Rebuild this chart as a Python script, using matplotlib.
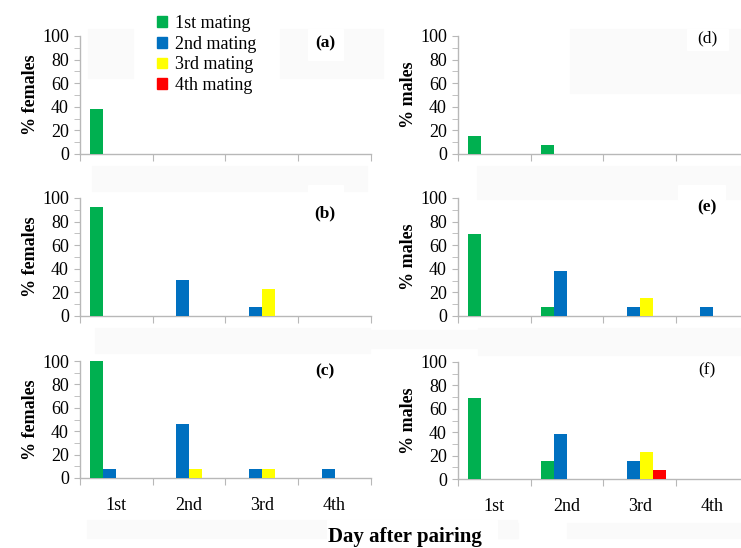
import numpy as np
import matplotlib
matplotlib.use("Agg")
import matplotlib.pyplot as plt
from matplotlib.patches import Patch, Rectangle
from matplotlib.ticker import MultipleLocator, FixedLocator

plt.rcParams['font.family'] = ['Liberation Serif', 'DejaVu Serif']

days = ['1st', '2nd', '3rd', '4th']
series = ['1st mating', '2nd mating', '3rd mating', '4th mating']
colors = ['#00B050', '#0070C0', '#FFFF00', '#FF0000']

# % per day, one row per mating order (1st..4th mating)
fem_a = [[38.5, 0, 0, 0], [0, 0, 0, 0], [0, 0, 0, 0], [0, 0, 0, 0]]
fem_b = [[92.3, 0, 0, 0], [0, 30.8, 7.7, 0], [0, 0, 23.1, 0], [0, 0, 0, 0]]
fem_c = [[100, 0, 0, 0], [7.7, 46.2, 7.7, 7.7], [0, 7.7, 7.7, 0], [0, 0, 0, 0]]
male_d = [[15.4, 7.7, 0, 0], [0, 0, 0, 0], [0, 0, 0, 0], [0, 0, 0, 0]]
male_e = [[69.2, 7.7, 0, 0], [0, 38.5, 7.7, 7.7], [0, 0, 15.4, 0], [0, 0, 0, 0]]
male_f = [[69.2, 15.4, 0, 0], [0, 38.5, 15.4, 0], [0, 0, 23.1, 0], [0, 0, 7.7, 0]]

W, H = 741, 548
fig = plt.figure(figsize=(W / 100, H / 100), dpi=100)

# faint grey boxes behind the panels (x0, y0, x1, y1 in pixels from top-left)
shade = [(88, 29, 133, 78), (280, 29, 370, 78), (370, 29, 383, 78),
         (570, 29, 741, 93), (92, 166, 367, 191), (477, 166, 741, 199),
         (95, 328, 370, 353), (478, 328, 741, 355), (370, 330, 478, 348),
         (87, 520, 517, 538), (370, 523, 518, 538), (567, 523, 741, 538)]
white = [(308, 29, 343, 60), (687, 29, 728, 50), (308, 185, 343, 200),
         (678, 185, 725, 200), (327, 520, 497, 548)]
for boxes, c in [(shade, '#fafafa'), (white, 'white')]:
    for x0, y0, x1, y1 in boxes:
        fig.patches.append(Rectangle((x0 / W, 1 - y1 / H), (x1 - x0) / W, (y1 - y0) / H,
                                     transform=fig.transFigure, color=c, zorder=-1))


def px_axes(left, top, bottom, right):
    return fig.add_axes([left / W, 1 - bottom / H, (right - left) / W, (bottom - top) / H])


def panel(ax, data, ylabel, tag, tag_bold, tag_pos, show_days):
    w = 0.18
    x = np.arange(len(days)) + 0.5
    for j, vals in enumerate(data):
        ax.bar(x + (j - 1.5) * w, vals, w, color=colors[j], zorder=3)
    ax.set_xlim(0, 4)
    ax.set_ylim(0, 100)
    ax.set_facecolor('none')
    for s in ['top', 'right']:
        ax.spines[s].set_visible(False)
    for s in ['left', 'bottom']:
        ax.spines[s].set_color('#b8b8b8')
        ax.spines[s].set_linewidth(1.0)
    ax.yaxis.set_major_locator(MultipleLocator(20))
    ax.yaxis.set_minor_locator(MultipleLocator(10))
    ax.tick_params(axis='y', which='both', length=4, color='#b8b8b8',
                   labelsize=13, pad=4)
    ax.xaxis.set_major_locator(FixedLocator([0, 1, 2, 3, 4]))
    ax.xaxis.set_minor_locator(FixedLocator(x))
    ax.tick_params(axis='x', which='major', length=5, color='#b8b8b8', labelbottom=False)
    ax.tick_params(axis='x', which='minor', length=0, labelsize=13, pad=14)
    if show_days:
        ax.set_xticklabels(days, minor=True)
    else:
        ax.set_xticklabels([], minor=True)
    ax.set_ylabel(ylabel, fontsize=13, fontweight='bold', labelpad=2)
    ax.text(tag_pos[0], tag_pos[1], tag, transform=ax.transAxes, fontsize=12.5,
            fontweight='bold' if tag_bold else 'normal', ha='center', va='center')


ax_a = px_axes(80, 36, 154, 371)
ax_b = px_axes(80, 198, 316, 371)
ax_c = px_axes(80, 361, 478, 371)
ax_d = px_axes(458, 36, 154, 749)
ax_e = px_axes(458, 198, 316, 749)
ax_f = px_axes(458, 362, 479, 749)

panel(ax_a, fem_a, '% females', '(a)', True, (0.842, 0.94), False)
panel(ax_b, fem_b, '% females', '(b)', True, (0.842, 0.87), False)
panel(ax_c, fem_c, '% females', '(c)', True, (0.842, 0.91), True)
panel(ax_d, male_d, '% males', '(d)', False, (0.856, 0.98), False)
panel(ax_e, male_e, '% males', '(e)', True, (0.856, 0.92), False)
panel(ax_f, male_f, '% males', '(f)', False, (0.856, 0.93), True)

handles = [Patch(color=c, label=s) for c, s in zip(colors, series)]
fig.legend(handles=handles, loc='upper left', bbox_to_anchor=(150 / W, 1 - 8 / H),
           frameon=False, fontsize=13, handlelength=0.55, handleheight=0.55,
           handletextpad=0.45, labelspacing=0.2, borderaxespad=0)

fig.text(405 / W, 1 - 537 / H, 'Day after pairing', fontsize=15, fontweight='bold',
         ha='center', va='center')

fig.savefig('out.png', dpi=100)
